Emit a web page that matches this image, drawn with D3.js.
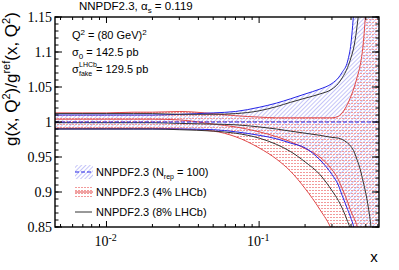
<!DOCTYPE html>
<html lang="en">
<head>
<meta charset="utf-8">
<script src="https://cdn.jsdelivr.net/npm/d3@7"></script>
<style>
  body { margin: 0; background: #fff; }
  text { font-family: "Liberation Sans", Arial, sans-serif; }
  .num { font-family: "Liberation Serif", "Times New Roman", serif; }
</style>
</head>
<body>
<div id="graph"></div>
<script>
// x grid shared by every curve
var xs       = [0.0046, 0.007, 0.01, 0.015, 0.02, 0.03, 0.05, 0.07, 0.1, 0.13, 0.16, 0.2, 0.25, 0.3, 0.33, 0.35, 0.38, 0.4, 0.42, 0.44, 0.46, 0.48, 0.5, 0.53, 0.56, 0.61];
// reference NNPDF2.3 (Nrep = 100) band, ratio to itself
var refUp    = [1.010, 1.010, 1.010, 1.010, 1.010, 1.011, 1.013, 1.015, 1.021, 1.027, 1.033, 1.040, 1.047, 1.055, 1.063, 1.071, 1.087, 1.113, 1.170, 1.250, 1.300, 1.350, 1.400, 1.450, 1.500, 1.600];
var refDn    = [0.990, 0.990, 0.990, 0.990, 0.990, 0.990, 0.989, 0.986, 0.981, 0.976, 0.970, 0.963, 0.946, 0.925, 0.910, 0.895, 0.875, 0.862, 0.845, 0.800, 0.750, 0.700, 0.650, 0.600, 0.550, 0.500];
// 4% LHCb fit
var lhcb4Up  = [1.013, 1.013, 1.013, 1.014, 1.014, 1.015, 1.012, 1.009, 1.007, 1.006, 1.006, 1.006, 1.006, 1.006, 1.008, 1.013, 1.026, 1.037, 1.050, 1.065, 1.082, 1.110, 1.160, 1.250, 1.350, 1.500];
var lhcb4Mid = [1.004, 1.004, 1.004, 1.004, 1.004, 1.003, 0.997, 0.993, 0.986, 0.979, 0.972, 0.962, 0.950, 0.932, 0.918, 0.905, 0.886, 0.872, 0.862, 0.850, 0.830, 0.800, 0.770, 0.720, 0.650, 0.600];
var lhcb4Dn  = [0.991, 0.991, 0.991, 0.991, 0.991, 0.990, 0.987, 0.979, 0.963, 0.947, 0.930, 0.905, 0.875, 0.845, 0.820, 0.800, 0.770, 0.750, 0.720, 0.700, 0.670, 0.650, 0.620, 0.600, 0.550, 0.500];
// 8% LHCb fit
var lhcb8Up  = [1.012, 1.012, 1.012, 1.012, 1.012, 1.011, 1.011, 1.012, 1.016, 1.022, 1.028, 1.034, 1.040, 1.047, 1.055, 1.063, 1.078, 1.092, 1.110, 1.140, 1.180, 1.230, 1.280, 1.350, 1.400, 1.500];
var lhcb8Mid = [0.999, 0.999, 0.999, 0.999, 0.999, 0.998, 0.997, 0.996, 0.993, 0.990, 0.987, 0.984, 0.981, 0.978, 0.977, 0.975, 0.970, 0.965, 0.957, 0.945, 0.932, 0.915, 0.898, 0.865, 0.820, 0.750];
var lhcb8Dn  = [0.990, 0.990, 0.990, 0.990, 0.990, 0.989, 0.987, 0.984, 0.977, 0.968, 0.958, 0.943, 0.925, 0.902, 0.888, 0.877, 0.858, 0.845, 0.830, 0.810, 0.790, 0.770, 0.750, 0.720, 0.700, 0.650];

// ticks
var xMajor = [0.01, 0.1];
var xMajorExp = ["-2", "-1"];
var xMinor = [0.005, 0.006, 0.007, 0.008, 0.009, 0.02, 0.03, 0.04, 0.05, 0.06, 0.07, 0.08, 0.09, 0.2, 0.3, 0.4, 0.5, 0.6];
var yMajor = [0.85, 0.9, 0.95, 1, 1.05, 1.1, 1.15];
var yLabels = ["0.85", "0.9", "0.95", "1", "1.05", "1.1", "1.15"];
var yMinor = d3.range(85, 116).map(d => d / 100);

var W = 399, H = 270;
var plot = {left: 55, right: 379, top: 17, bottom: 227};

var svg = d3.select("#graph").append("svg")
    .attr("width", W)
    .attr("height", H);

var x = d3.scaleLog().domain([0.0046, 0.61]).range([plot.left, plot.right]);
var y = d3.scaleLinear().domain([0.85, 1.15]).range([plot.bottom, plot.top]);

var defs = svg.append("defs");
defs.append("clipPath").attr("id", "clip")
    .append("rect")
    .attr("x", plot.left).attr("y", plot.top)
    .attr("width", plot.right - plot.left).attr("height", plot.bottom - plot.top);

// blue "///" hatch
var pb = defs.append("pattern").attr("id", "hatchBlue")
    .attr("patternUnits", "userSpaceOnUse")
    .attr("width", 3).attr("height", 3)
    .attr("patternTransform", "rotate(45)");
pb.append("line").attr("x1", 0).attr("y1", 0).attr("x2", 0).attr("y2", 3)
    .attr("stroke", "#8c8cf2").attr("stroke-width", 1);

// red dotted horizontal hatch
var pr = defs.append("pattern").attr("id", "hatchRed")
    .attr("patternUnits", "userSpaceOnUse")
    .attr("width", 3).attr("height", 3);
pr.append("rect").attr("x", 0).attr("y", 1).attr("width", 2).attr("height", 1)
    .attr("fill", "#f29a9a");

var data = xs.map(function(d, i) {
    return {x: d, refUp: refUp[i], refDn: refDn[i],
            l4u: lhcb4Up[i], l4m: lhcb4Mid[i], l4d: lhcb4Dn[i],
            l8u: lhcb8Up[i], l8m: lhcb8Mid[i], l8d: lhcb8Dn[i]};
});

var g = svg.append("g").attr("clip-path", "url(#clip)");

function band(lo, hi) {
    return d3.area().curve(d3.curveMonotoneX)
        .x(d => x(d.x)).y0(d => y(d[lo])).y1(d => y(d[hi]));
}
function line(key) {
    return d3.line().curve(d3.curveMonotoneX)
        .x(d => x(d.x)).y(d => y(d[key]));
}

g.append("path").attr("d", band("refDn", "refUp")(data)).attr("fill", "url(#hatchBlue)");
g.append("path").attr("d", band("l4d", "l4u")(data)).attr("fill", "url(#hatchRed)");

// band edges and central lines
[["l4u", "#e04848"], ["l4m", "#e04848"], ["l4d", "#e04848"],
 ["refUp", "#2525e6"], ["refDn", "#2525e6"],
 ["l8u", "#333"], ["l8m", "#333"], ["l8d", "#333"]].forEach(function(c) {
    g.append("path").attr("d", line(c[0])(data))
        .attr("fill", "none").attr("stroke", c[1]).attr("stroke-width", 1);
});

// reference central value
g.append("line")
    .attr("x1", plot.left).attr("x2", plot.right)
    .attr("y1", y(1)).attr("y2", y(1))
    .attr("stroke", "#2525e6").attr("stroke-width", 1.2)
    .attr("stroke-dasharray", "4,2");

// frame and ticks
var ax = svg.append("g").attr("stroke", "#000");
ax.append("rect")
    .attr("x", plot.left).attr("y", plot.top)
    .attr("width", plot.right - plot.left).attr("height", plot.bottom - plot.top)
    .attr("fill", "none").attr("stroke-width", 1.4);

function xTicks(vals, len) {
    vals.forEach(function(v) {
        ax.append("line").attr("x1", x(v)).attr("x2", x(v))
            .attr("y1", plot.bottom).attr("y2", plot.bottom - len).attr("stroke-width", 1);
        ax.append("line").attr("x1", x(v)).attr("x2", x(v))
            .attr("y1", plot.top).attr("y2", plot.top + len).attr("stroke-width", 1);
    });
}
function yTicks(vals, len) {
    vals.forEach(function(v) {
        ax.append("line").attr("y1", y(v)).attr("y2", y(v))
            .attr("x1", plot.left).attr("x2", plot.left + len).attr("stroke-width", 1);
        ax.append("line").attr("y1", y(v)).attr("y2", y(v))
            .attr("x1", plot.right).attr("x2", plot.right - len).attr("stroke-width", 1);
    });
}
xTicks(xMinor, 3);
xTicks(xMajor, 6);
yTicks(yMinor, 3.5);
yTicks(yMajor, 7);

// tick labels
yMajor.forEach(function(v, i) {
    svg.append("text").attr("class", "num")
        .attr("x", plot.left - 3).attr("y", y(v) + 5)
        .attr("text-anchor", "end").attr("font-size", 14)
        .text(yLabels[i]);
});
xMajor.forEach(function(v, i) {
    var t = svg.append("text").attr("class", "num")
        .attr("x", x(v) - 12).attr("y", 246).attr("font-size", 14);
    t.append("tspan").text("10");
    t.append("tspan").attr("dy", -5).attr("font-size", 10).text(xMajorExp[i]);
});

// axis titles
svg.append("text").attr("x", 374).attr("y", 262)
    .attr("text-anchor", "middle").attr("font-size", 15).text("x");

var yl = svg.append("text")
    .attr("transform", "translate(17,79) rotate(-90)")
    .attr("text-anchor", "middle").attr("font-size", 17);
yl.append("tspan").text("g(x, Q");
yl.append("tspan").attr("dy", -7).attr("font-size", 11).text("2");
yl.append("tspan").attr("dy", 7).text(")/g");
yl.append("tspan").attr("dy", -7).attr("font-size", 11).text("ref");
yl.append("tspan").attr("dy", 7).text("(x, Q");
yl.append("tspan").attr("dy", -7).attr("font-size", 11).text("2");
yl.append("tspan").attr("dy", 7).text(")");

// title
var tt = svg.append("text").attr("x", 79).attr("y", 10).attr("font-size", 11.5);
tt.append("tspan").text("NNPDF2.3, \u03b1");
tt.append("tspan").attr("dy", 3).attr("font-size", 8).text("s");
tt.append("tspan").attr("dy", -3).text(" = 0.119");

// annotations
var a1 = svg.append("text").attr("x", 72).attr("y", 39).attr("font-size", 11);
a1.append("tspan").text("Q");
a1.append("tspan").attr("dy", -4).attr("font-size", 8).text("2");
a1.append("tspan").attr("dy", 4).text(" = (80 GeV)");
a1.append("tspan").attr("dy", -4).attr("font-size", 8).text("2");

var a2 = svg.append("text").attr("x", 72).attr("y", 56).attr("font-size", 11);
a2.append("tspan").text("\u03c3");
a2.append("tspan").attr("dy", 3).attr("font-size", 8).text("0");
a2.append("tspan").attr("dy", -3).text(" = 142.5 pb");

var a3 = svg.append("g");
a3.append("text").attr("x", 72).attr("y", 73).attr("font-size", 11).text("\u03c3");
a3.append("text").attr("x", 79).attr("y", 67).attr("font-size", 7).text("LHCb");
a3.append("text").attr("x", 79).attr("y", 76).attr("font-size", 7).text("fake");
a3.append("text").attr("x", 96).attr("y", 73).attr("font-size", 11).text("= 129.5 pb");

// legend
var leg = svg.append("g");
leg.append("rect").attr("x", 75).attr("y", 165).attr("width", 18).attr("height", 14).attr("fill", "url(#hatchBlue)");
leg.append("line").attr("x1", 75).attr("x2", 93).attr("y1", 172).attr("y2", 172)
    .attr("stroke", "#2525e6").attr("stroke-dasharray", "4,2");
leg.append("rect").attr("x", 75).attr("y", 185).attr("width", 18).attr("height", 14).attr("fill", "url(#hatchRed)");
leg.append("line").attr("x1", 75).attr("x2", 93).attr("y1", 192).attr("y2", 192)
    .attr("stroke", "#e04848");
leg.append("line").attr("x1", 75).attr("x2", 92).attr("y1", 212).attr("y2", 212)
    .attr("stroke", "#333");

var l1 = leg.append("text").attr("x", 96).attr("y", 176).attr("font-size", 11);
l1.append("tspan").text("NNPDF2.3 (N");
l1.append("tspan").attr("dy", 3).attr("font-size", 7).text("rep");
l1.append("tspan").attr("dy", -3).text(" = 100)");
leg.append("text").attr("x", 96).attr("y", 196).attr("font-size", 11).text("NNPDF2.3 (4% LHCb)");
leg.append("text").attr("x", 96).attr("y", 216).attr("font-size", 11).text("NNPDF2.3 (8% LHCb)");
</script>
</body>
</html>
